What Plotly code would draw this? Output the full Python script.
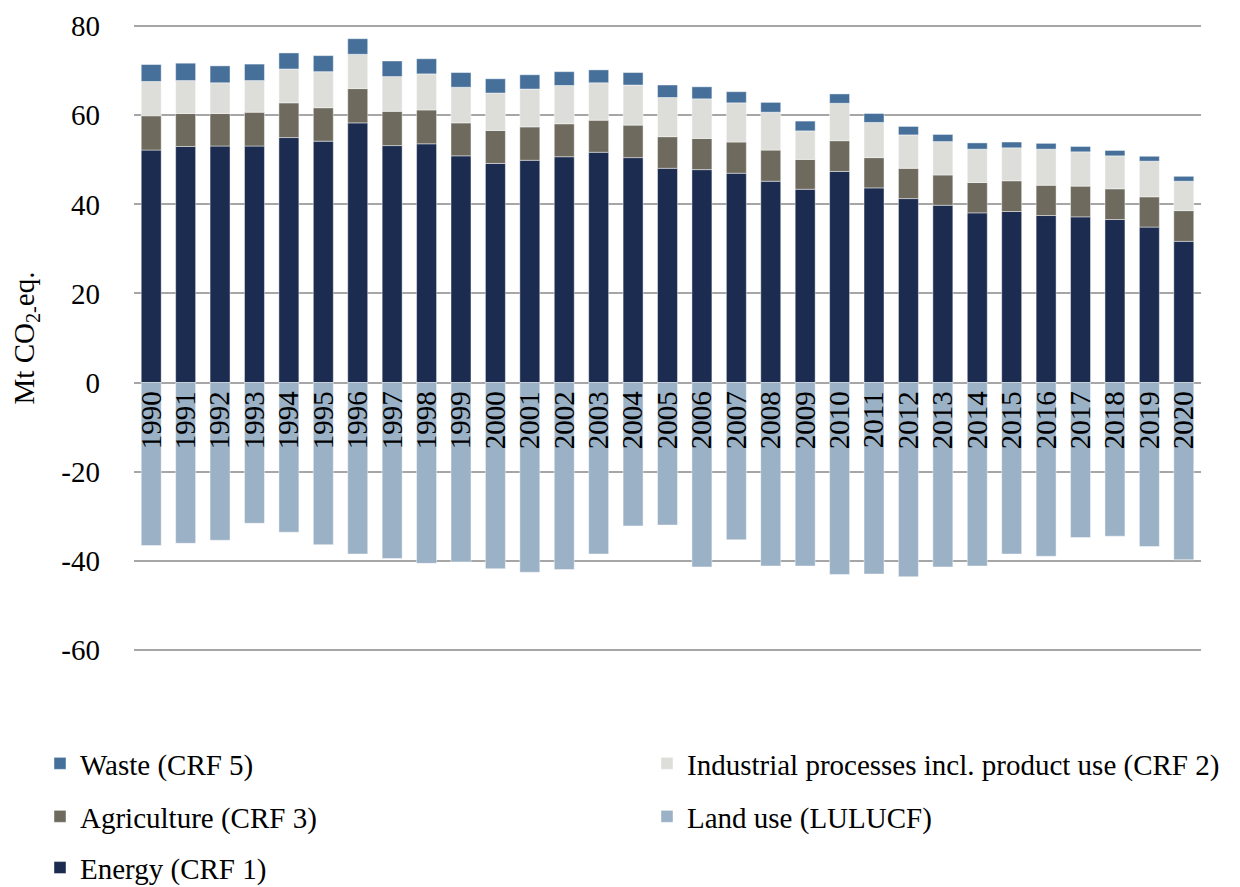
import plotly.graph_objects as go

years = [str(y) for y in range(1990, 2021)]

energy = [52.2, 53.0, 53.1, 53.1, 55.0, 54.2, 58.3, 53.2, 53.6, 50.9, 49.2, 49.9, 50.7, 51.7, 50.5, 48.1,
          47.8, 47.0, 45.2, 43.4, 47.4, 43.7, 41.3, 39.8, 38.1, 38.4, 37.5, 37.2, 36.6, 34.9, 31.7]
agriculture = [7.7, 7.4, 7.3, 7.6, 7.8, 7.5, 7.7, 7.7, 7.6, 7.4, 7.4, 7.5, 7.4, 7.2, 7.3, 7.1,
               7.0, 7.0, 7.0, 6.7, 6.9, 6.8, 6.8, 6.8, 6.8, 6.9, 6.8, 6.9, 6.9, 6.8, 6.9]
industrial = [7.7, 7.4, 6.9, 7.1, 7.6, 8.1, 7.7, 7.8, 8.1, 8.0, 8.4, 8.5, 8.6, 8.4, 9.0, 8.8,
              8.9, 8.8, 8.5, 6.4, 8.4, 7.9, 7.5, 7.5, 7.5, 7.4, 8.1, 7.7, 7.4, 8.0, 6.6]
waste = [3.8, 3.9, 3.8, 3.7, 3.6, 3.6, 3.5, 3.5, 3.4, 3.3, 3.2, 3.2, 3.1, 2.9, 2.8, 2.8,
         2.7, 2.5, 2.2, 2.2, 2.1, 2.0, 1.9, 1.6, 1.4, 1.3, 1.3, 1.2, 1.2, 1.1, 1.1]
land_use = [-36.6, -36.1, -35.4, -31.6, -33.6, -36.4, -38.5, -39.5, -40.6, -40.3, -41.8, -42.6, -42.0, -38.5, -32.2, -32.0,
            -41.4, -35.3, -41.2, -41.2, -43.1, -43.0, -43.6, -41.4, -41.2, -38.5, -39.0, -34.8, -34.5, -36.8, -39.8]

y_min, y_max = -60.5, 80.5
y_ticks = [-60, -40, -20, 0, 20, 40, 60, 80]

FONT = "Liberation Serif"
FS = 29
W, H = 1232, 879

# (name, values, colour, legend id, legend x px, legend y px)
series = [
    ("Energy (CRF 1)", energy, "#1B2C50", "legend5", 32, 859.7),
    ("Agriculture (CRF 3)", agriculture, "#6E6A5E", "legend3", 32, 808.5),
    ("Industrial processes incl. product use (CRF 2)", industrial, "#DDDDD9", "legend2", 639, 755.5),
    ("Waste (CRF 5)", waste, "#46709A", "legend", 32, 755.5),
    ("Land use (LULUCF)", land_use, "#9BB1C6", "legend4", 639, 808.5),
]

fig = go.Figure()
legends = {}
for name, vals, color, leg, lx, ly in series:
    fig.add_trace(go.Bar(
        x=years, y=vals, name=name,
        marker=dict(color=color, line=dict(color="rgba(255,255,255,0.55)", width=0.8)),
        legend=leg, showlegend=True,
    ))
    legends[leg] = dict(
        x=lx / W, y=1 - ly / H, xref="container", yref="container",
        xanchor="left", yanchor="middle", orientation="h",
        font=dict(family=FONT, size=FS, color="#000000"), bgcolor="rgba(0,0,0,0)",
        itemclick=False, borderwidth=0,
    )

zero_pos = (0 - y_min) / (y_max - y_min)

fig.update_layout(
    width=W, height=H, showlegend=True,
    barmode="relative", bargap=0.42,
    paper_bgcolor="white", plot_bgcolor="white",
    margin=dict(l=126, r=39, t=16, b=235, autoexpand=False),
    font=dict(family=FONT, size=FS, color="#000000"),
    xaxis=dict(
        type="category", anchor="free", position=zero_pos,
        tickmode="array", tickvals=years, ticktext=years,
        tickangle=-90, showgrid=False, showline=False, ticks="",
        tickfont=dict(family=FONT, size=FS, color="#000000"),
        ticklabelstandoff=2,
    ),
    yaxis=dict(
        range=[y_min, y_max], tickvals=y_ticks, ticktext=[str(v) for v in y_ticks],
        showgrid=True, gridcolor="#A6A6A6", gridwidth=1.5,
        zeroline=False, showline=False, ticks="",
        ticklabelstandoff=33,
        tickfont=dict(family=FONT, size=FS, color="#000000"),
        title=dict(text="Mt CO<sub>2-</sub>eq.", font=dict(family=FONT, size=FS, color="#000000"), standoff=34),
    ),
    **legends,
)

fig.write_html("out.html")
